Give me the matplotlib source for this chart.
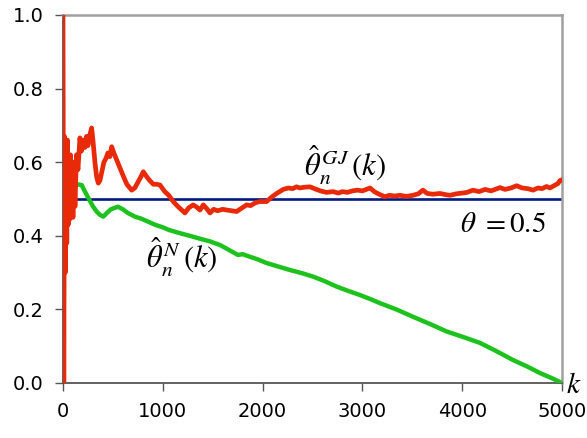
import matplotlib
matplotlib.use("Agg")
from matplotlib import pyplot as plt

plt.rcParams['mathtext.fontset'] = 'stix'

# red estimate (GJ)
red_k = [0, 8, 15, 22, 30, 38, 45, 52, 60, 68,
         75, 82, 90, 100, 110, 120, 135, 150, 170, 185,
         200, 220, 235, 250, 270, 287, 300, 320, 337, 354,
         370, 390, 410, 430, 450, 470, 488, 510, 540, 570,
         600, 640, 688, 720, 750, 780, 805, 840, 870, 905,
         940, 972, 1020, 1060, 1105, 1150, 1190, 1222, 1260, 1305,
         1340, 1373, 1406, 1440, 1473, 1510, 1550, 1600, 1640, 1690,
         1740, 1790, 1840, 1880, 1930, 1974, 2040, 2090, 2141, 2207,
         2260, 2300, 2340, 2375, 2420, 2475, 2530, 2580, 2640, 2708,
         2760, 2800, 2850, 2900, 2950, 3000, 3040, 3076, 3120, 3160,
         3226, 3270, 3320, 3377, 3440, 3507, 3560, 3607, 3650, 3707,
         3778, 3830, 3878, 3940, 4000, 4050, 4108, 4170, 4230, 4290,
         4340, 4379, 4430, 4490, 4546, 4600, 4660, 4710, 4760, 4800,
         4846, 4880, 4920, 4960, 4980, 5000]
red_v = [1.0, 0.0, 0.67, 0.30, 0.62, 0.38, 0.66, 0.43, 0.60, 0.445,
         0.62, 0.46, 0.58, 0.45, 0.60, 0.48, 0.62, 0.58, 0.666, 0.63,
         0.66, 0.64, 0.67, 0.645, 0.675, 0.693, 0.66, 0.60, 0.56, 0.543,
         0.55, 0.575, 0.60, 0.61, 0.625, 0.615, 0.642, 0.625, 0.605, 0.585,
         0.565, 0.54, 0.524, 0.53, 0.545, 0.56, 0.574, 0.56, 0.55, 0.54,
         0.54, 0.538, 0.52, 0.51, 0.493, 0.48, 0.47, 0.462, 0.476, 0.484,
         0.478, 0.47, 0.484, 0.474, 0.462, 0.472, 0.468, 0.472, 0.47, 0.468,
         0.466, 0.475, 0.484, 0.482, 0.49, 0.493, 0.493, 0.505, 0.515, 0.526,
         0.53, 0.528, 0.533, 0.53, 0.532, 0.533, 0.527, 0.522, 0.518, 0.52,
         0.516, 0.52, 0.518, 0.522, 0.524, 0.522, 0.526, 0.53, 0.52, 0.514,
         0.506, 0.51, 0.508, 0.51, 0.507, 0.51, 0.514, 0.524, 0.515, 0.513,
         0.515, 0.512, 0.51, 0.514, 0.516, 0.518, 0.524, 0.52, 0.526, 0.522,
         0.527, 0.531, 0.526, 0.53, 0.536, 0.53, 0.528, 0.524, 0.53, 0.528,
         0.534, 0.53, 0.536, 0.542, 0.55, 0.552]

# green estimate (N)
green_k = [40, 55, 70, 85, 100, 120, 140, 187, 220, 260,
           300, 340, 370, 404, 440, 480, 520, 551, 600, 650,
           721, 780, 840, 922, 1000, 1060, 1122, 1200, 1270, 1373,
           1470, 1573, 1660, 1753, 1800, 1874, 1950, 2040, 2150, 2275,
           2400, 2507, 2620, 2742, 2860, 2976, 3080, 3176, 3340, 3507,
           3680, 3845, 4010, 4178, 4340, 4509, 4650, 4780, 4900, 5000]
green_v = [0.60, 0.55, 0.58, 0.53, 0.56, 0.53, 0.54, 0.538, 0.52, 0.50,
           0.48, 0.465, 0.457, 0.452, 0.462, 0.472, 0.476, 0.479, 0.472, 0.462,
           0.452, 0.447, 0.44, 0.43, 0.423, 0.416, 0.411, 0.405, 0.40, 0.392,
           0.385, 0.375, 0.362, 0.348, 0.350, 0.343, 0.336, 0.326, 0.317, 0.307,
           0.298, 0.289, 0.277, 0.262, 0.25, 0.239, 0.228, 0.217, 0.20, 0.18,
           0.16, 0.14, 0.125, 0.109, 0.087, 0.0625, 0.045, 0.027, 0.013, 0.0]

theta = 0.5
x_ticks = [0, 1000, 2000, 3000, 4000, 5000]
y_ticks = [0.0, 0.2, 0.4, 0.6, 0.8, 1.0]

fig = plt.figure(figsize=(5.87, 4.38), dpi=100)
ax = fig.add_axes([0.1073, 0.1256, 0.8500, 0.8402])

ax.axhline(theta, xmin=100 / 5000, color='#001a80', lw=1.9, zorder=2)
ax.plot(green_k, green_v, color='#1ec21e', lw=3.2, zorder=3)
ax.plot(red_k, red_v, color='#e82a08', lw=3.4, zorder=4)

ax.set_xlim(0, 5000)
ax.set_ylim(0, 1.0)
ax.set_xticks(x_ticks)
ax.set_yticks(y_ticks)
ax.set_yticklabels(['%.1f' % v for v in y_ticks])
ax.tick_params(labelsize=14, length=6, width=1, color='#555555', pad=8)

for s in ['left', 'bottom']:
    ax.spines[s].set_color('#555555')
    ax.spines[s].set_linewidth(1.3)
for s in ['top', 'right']:
    ax.spines[s].set_color('#a0a0a0')
    ax.spines[s].set_linewidth(1.8)

ax.text(2830, 0.59, r'$\hat{\theta}_n^{\,GJ}\,(k)$', fontsize=22, ha='center', va='center')
ax.text(3980, 0.432, r'$\theta\ = 0.5$', fontsize=21, ha='left', va='center')
ax.text(1190, 0.34, r'$\hat{\theta}_n^{\,N}\,(k)$', fontsize=22, ha='center', va='center')
ax.text(5040, -0.005, r'$k$', fontsize=21, ha='left', va='center', clip_on=False)

fig.savefig('out.png', dpi=100)
